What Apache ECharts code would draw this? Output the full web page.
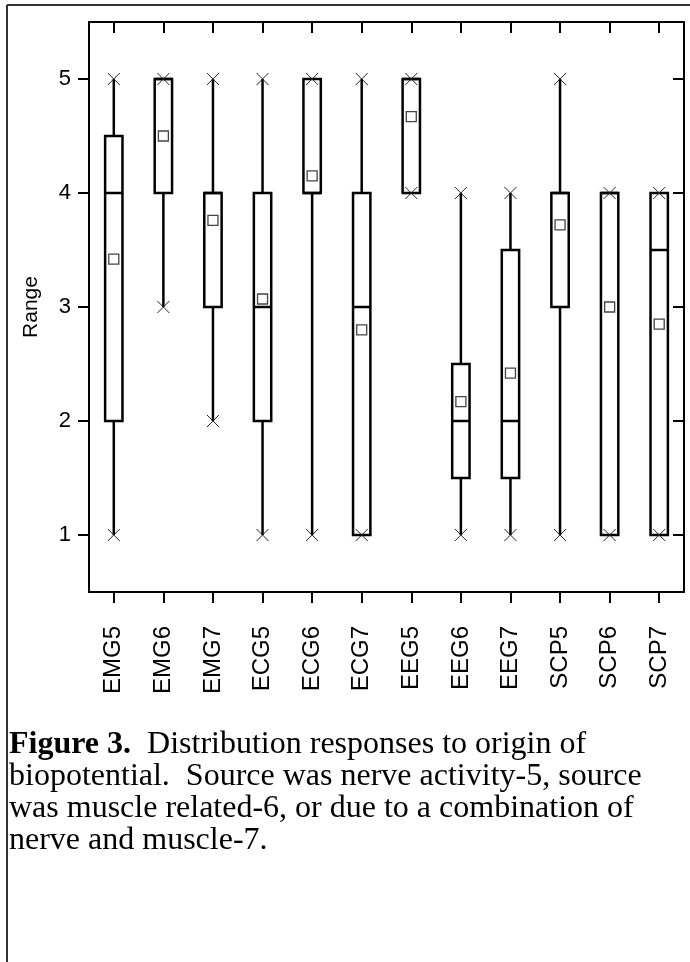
<!DOCTYPE html>
<html>
<head>
<meta charset="utf-8">
<script src="https://cdn.jsdelivr.net/npm/echarts@6/dist/echarts.min.js"></script>
<style>
html,body{margin:0;padding:0;background:#fff;}
#chart{width:690px;height:962px;}
</style>
</head>
<body>
<div id="chart"></div>
<script>
const categories = ['EMG5','EMG6','EMG7','ECG5','ECG6','ECG7','EEG5','EEG6','EEG7','SCP5','SCP6','SCP7'];
const mins    = [1, 3, 2, 1, 1, 1, 4, 1,   1,   1, 1, 1];
const q1s     = [2, 4, 3, 2, 4, 1, 4, 1.5, 1.5, 3, 1, 1];
const medians = [4, 5, 4, 3, 4, 3, 5, 2,   2,   4, 4, 3.5];
const q3s     = [4.5, 5, 4, 4, 5, 4, 5, 2.5, 3.5, 4, 4, 4];
const maxs    = [5, 5, 5, 5, 5, 5, 5, 4,   4,   5, 4, 4];
const means   = [3.42, 4.5, 3.76, 3.07, 4.15, 2.8, 4.67, 2.17, 2.42, 3.72, 3.0, 2.85];
const yTicks  = [1, 2, 3, 4, 5];
const yLabel  = 'Range';
const captionBold = 'Figure 3.';
const captionLines = [
  '  Distribution responses to origin of',
  'biopotential.  Source was nerve activity-5, source',
  'was muscle related-6, or due to a combination of',
  'nerve and muscle-7.'
];

const boxData = categories.map((c, i) => [i, mins[i], q1s[i], medians[i], q3s[i], maxs[i]]);
const meanData = categories.map((c, i) => [i, means[i]]);

const chart = echarts.init(document.getElementById('chart'), null, {renderer: 'canvas'});
const font = 'Liberation Sans, Arial, sans-serif';
const serif = 'Liberation Serif, Times New Roman, serif';

function renderBox(params, api) {
  const x = api.value(0);
  const pMin = api.coord([x, api.value(1)]);
  const pQ1 = api.coord([x, api.value(2)]);
  const pMed = api.coord([x, api.value(3)]);
  const pQ3 = api.coord([x, api.value(4)]);
  const pMax = api.coord([x, api.value(5)]);
  const bw = api.size([1, 0])[0] * 0.35;
  const cx = pMed[0];
  const lineStyle = {stroke: '#000', lineWidth: 2.5, fill: null};
  const xs = 6;
  const xStyle = {stroke: '#222', lineWidth: 1};
  return {
    type: 'group',
    children: [
      {type: 'line', shape: {x1: cx, y1: pQ3[1], x2: cx, y2: pMax[1]}, style: lineStyle},
      {type: 'line', shape: {x1: cx, y1: pQ1[1], x2: cx, y2: pMin[1]}, style: lineStyle},
      {type: 'rect', shape: {x: cx - bw / 2, y: pQ3[1], width: bw, height: pQ1[1] - pQ3[1]},
        style: {fill: '#fff', stroke: '#000', lineWidth: 2.5}},
      {type: 'line', shape: {x1: cx - bw / 2, y1: pMed[1], x2: cx + bw / 2, y2: pMed[1]}, style: lineStyle},
      {type: 'line', shape: {x1: cx - xs, y1: pMax[1] - xs, x2: cx + xs, y2: pMax[1] + xs}, style: xStyle},
      {type: 'line', shape: {x1: cx - xs, y1: pMax[1] + xs, x2: cx + xs, y2: pMax[1] - xs}, style: xStyle},
      {type: 'line', shape: {x1: cx - xs, y1: pMin[1] - xs, x2: cx + xs, y2: pMin[1] + xs}, style: xStyle},
      {type: 'line', shape: {x1: cx - xs, y1: pMin[1] + xs, x2: cx + xs, y2: pMin[1] - xs}, style: xStyle}
    ]
  };
}

const axisLine = {show: true, onZero: false, lineStyle: {color: '#000', width: 2}};

const option = {
  backgroundColor: '#fff',
  animation: false,
  grid: {left: 89, right: 6, top: 22, bottom: 370},
  xAxis: [
    {
      type: 'category', data: categories, position: 'bottom', boundaryGap: true,
      axisLine: axisLine,
      axisTick: {show: true, alignWithLabel: true, inside: false, length: 11, lineStyle: {color: '#000', width: 2}},
      axisLabel: {show: true, rotate: 90, fontSize: 24, color: '#000', fontFamily: font, margin: 34, interval: 0},
      splitLine: {show: false}
    },
    {
      type: 'category', data: categories, position: 'top', boundaryGap: true,
      axisLine: axisLine,
      axisTick: {show: true, alignWithLabel: true, inside: true, length: 11, lineStyle: {color: '#000', width: 2}},
      axisLabel: {show: false},
      splitLine: {show: false}
    }
  ],
  yAxis: [
    {
      type: 'value', min: 0.5, max: 5.5, position: 'left',
      name: yLabel, nameLocation: 'middle', nameRotate: 90, nameGap: 47,
      nameTextStyle: {fontSize: 21, color: '#000', fontFamily: font},
      axisLine: axisLine,
      axisTick: {show: true, inside: false, length: 11, customValues: yTicks, lineStyle: {color: '#000', width: 2}},
      axisLabel: {show: true, customValues: yTicks, fontSize: 22, color: '#000', fontFamily: font, margin: 18},
      splitLine: {show: false}
    },
    {
      type: 'value', min: 0.5, max: 5.5, position: 'right',
      axisLine: axisLine,
      axisTick: {show: true, inside: true, length: 11, customValues: yTicks, lineStyle: {color: '#000', width: 2}},
      axisLabel: {show: false},
      splitLine: {show: false}
    }
  ],
  series: [
    {
      type: 'custom', xAxisIndex: 0, yAxisIndex: 0,
      renderItem: renderBox,
      encode: {x: 0, y: [1, 2, 3, 4, 5]},
      data: boxData, z: 2
    },
    {
      type: 'scatter', xAxisIndex: 0, yAxisIndex: 0,
      symbol: 'rect', symbolSize: 10,
      itemStyle: {color: '#fff', borderColor: '#444', borderWidth: 1.3, opacity: 1},
      data: meanData, z: 5
    }
  ],
  graphic: [
    {type: 'line', shape: {x1: 7, y1: 5, x2: 690, y2: 5}, style: {stroke: '#333', lineWidth: 2}},
    {type: 'line', shape: {x1: 7, y1: 5, x2: 7, y2: 962}, style: {stroke: '#333', lineWidth: 2}},
    {type: 'text', left: 9, top: 729, style: {
      text: '{b|' + captionBold + '}' + captionLines[0],
      font: '32px ' + serif, fill: '#000',
      rich: {b: {fontWeight: 'bold', fontSize: 32, fontFamily: serif}}
    }},
    {type: 'text', left: 9, top: 761, style: {text: captionLines[1], font: '32px ' + serif, fill: '#000'}},
    {type: 'text', left: 9, top: 793, style: {text: captionLines[2], font: '32px ' + serif, fill: '#000'}},
    {type: 'text', left: 9, top: 825, style: {text: captionLines[3], font: '32px ' + serif, fill: '#000'}}
  ]
};
chart.setOption(option);
</script>
</body>
</html>
